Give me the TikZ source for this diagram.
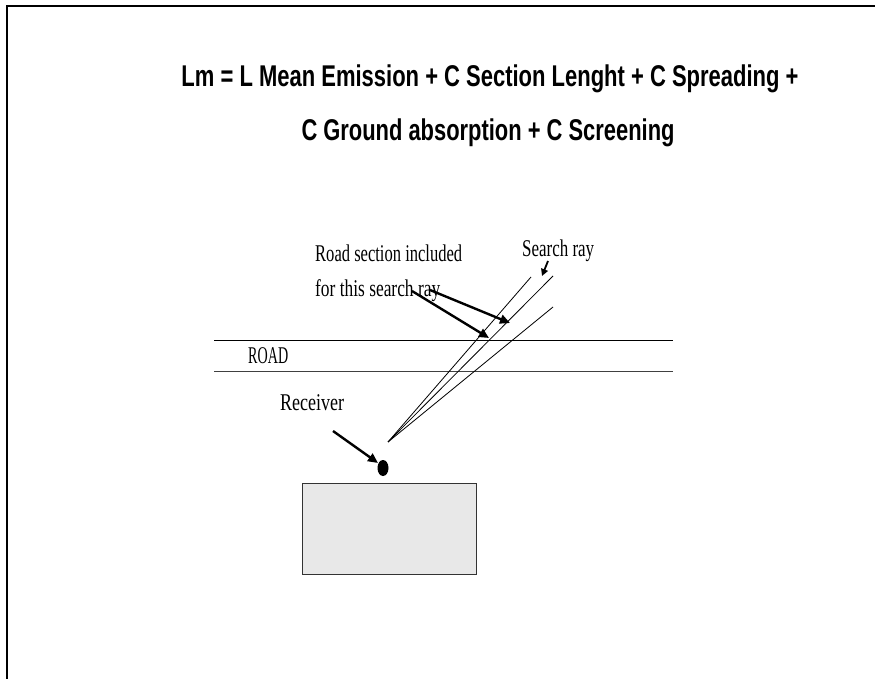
\documentclass[tikz,border=0pt]{standalone}
\usepackage{fontspec}
\setmainfont{Liberation Serif}
\newfontfamily\headfont{Liberation Sans}
\usetikzlibrary{arrows.meta,shapes.geometric}
% squeeze a text horizontally to a given width (in pt), keeping its height
\newcommand{\squeezeto}[2]{\resizebox{#1pt}{\height}{#2}}
\definecolor{boxgrey}{HTML}{E8E8E8}
\tikzset{
  lbl/.style={inner sep=0pt, anchor=base west, font=\fontsize{24}{26}\selectfont},
  head/.style={inner sep=0pt, anchor=base, font=\headfont\bfseries\fontsize{30}{32}\selectfont},
  ray/.style={line width=0.8pt},
  roadline/.style={line width=1pt},
  pointer/.style={line width=2.4pt, -{Triangle[length=10pt,width=9pt]}},
  smallpointer/.style={line width=1.8pt, -{Triangle[length=7pt,width=7pt]}},
}
\begin{document}
\begin{tikzpicture}[x=1pt,y=-1pt]
\useasboundingbox (0,0) rectangle (875,679);
% page frame (top and left edges)
\draw[line width=2pt] (7,679) -- (7,6) -- (875,6);

% formula
\node[head] (title1) at (490,87) {\squeezeto{617}{Lm = L Mean Emission + C Section Lenght + C Spreading +}};
\node[head] (title2) at (488,141) {\squeezeto{373}{C Ground absorption + C Screening}};

% road
\coordinate (roadTL) at (214,340);
\coordinate (roadTR) at (673,340);
\coordinate (roadBL) at (214,371);
\coordinate (roadBR) at (673,371);
\draw[roadline] (roadTL) -- (roadTR);
\draw[roadline, black!75] (roadBL) -- (roadBR);
\node[lbl] (road) at (248,363) {\squeezeto{40}{ROAD}};

% search rays from the receiver
\coordinate (src) at (388,442);
\coordinate (rayA) at (531,277);
\coordinate (rayB) at (553,276);
\coordinate (rayC) at (553,307);
\draw[ray] (src) -- (rayA);
\draw[ray] (src) -- (rayB);
\draw[ray] (src) -- (rayC);

% labels
\node[lbl] (section1) at (315,261) {\squeezeto{147}{Road section included}};
\node[lbl] (section2) at (315,296) {\squeezeto{125}{for this search ray}};
\node[lbl] (searchray) at (522,256) {\squeezeto{72}{Search ray}};
\node[lbl] (receiver) at (280,410) {\squeezeto{64}{Receiver}};

% pointers
\coordinate (pA0) at (412,291);
\coordinate (pA1) at (489,338);
\coordinate (pB0) at (430,290);
\coordinate (pB1) at (510,323);
\draw[pointer] (pA0) -- (pA1);
\draw[pointer] (pB0) -- (pB1);
\coordinate (sr0) at (548,261);
\coordinate (sr1) at (542,276);
\draw[smallpointer] (sr0) -- (sr1);
\coordinate (rc0) at (333,431);
\coordinate (rc1) at (378,463);
\draw[pointer] (rc0) -- (rc1);

% receiver point and building
\node[ellipse, fill=black, minimum width=11pt, minimum height=16pt, inner sep=0pt] (dot) at (383,468) {};
\node[draw=black!80, fill=boxgrey, line width=0.8pt, minimum width=174pt, minimum height=91pt, inner sep=0pt] (building) at (389,528.5) {};
\end{tikzpicture}
\end{document}
